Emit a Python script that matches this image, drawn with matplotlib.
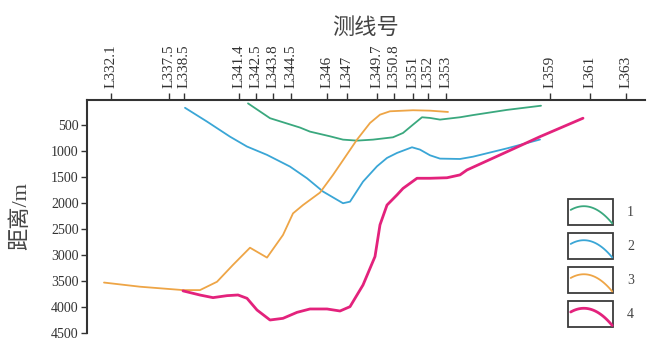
import numpy as np
import matplotlib
matplotlib.use("Agg")
import matplotlib.pyplot as plt
from matplotlib.legend_handler import HandlerBase
from matplotlib.patches import Rectangle
from matplotlib.lines import Line2D

plt.rcParams['font.family'] = ['Liberation Serif', 'Noto Sans CJK SC']
plt.rcParams['axes.unicode_minus'] = False

# Survey lines along the profile (distance along profile, km)
line_names = ["L332.1", "L337.5", "L338.5", "L341.4", "L342.5", "L343.8", "L344.5",
              "L346", "L347", "L349.7", "L350.8", "L351", "L352", "L353",
              "L359", "L361", "L363"]
line_pos = [0.0, 5.8, 7.3, 12.8, 14.5, 16.2, 18.0, 21.6, 23.6, 26.6, 28.3,
            30.2, 31.7, 33.5, 43.9, 47.9, 51.5]

depth_ticks = [500, 1000, 1500, 2000, 2500, 3000, 3500, 4000, 4500]

# Boundary 1
x1 = [13.7, 15.9, 17.4, 18.9, 19.9, 21.9, 23.2, 24.6, 26.2, 28.2, 29.2, 30.2,
      31.1, 31.9, 32.9, 34.9, 36.2, 39.6, 43.0]
d1 = [85, 370, 460, 550, 628, 718, 782, 801, 782, 737, 654, 494,
      352, 365, 397, 352, 310, 210, 130]

# Boundary 2
x2 = [7.4, 9.6, 11.9, 13.6, 15.6, 17.9, 19.6, 21.2, 23.2, 23.9, 25.2, 26.6,
      27.6, 28.6, 30.1, 30.9, 31.9, 32.9, 34.9, 36.2, 39.6, 42.9]
d2 = [170, 435, 725, 915, 1075, 1300, 1525, 1780, 2005, 1975, 1590, 1295,
      1134, 1038, 929, 974, 1083, 1147, 1154, 1110, 950, 780]

# Boundary 3
x3 = [-0.7, 2.9, 7.2, 8.9, 10.6, 12.2, 13.9, 15.6, 17.2, 18.2, 19.2, 20.9,
      22.2, 22.9, 24.6, 25.9, 26.9, 27.9, 30.2, 31.9, 33.7]
d3 = [3530, 3610, 3675, 3675, 3515, 3190, 2860, 3050, 2615, 2200, 2040, 1800,
      1460, 1263, 782, 462, 302, 237, 217, 225, 250]

# Boundary 4
x4 = [7.2, 8.9, 10.2, 11.6, 12.7, 13.6, 14.6, 15.9, 17.2, 18.6, 19.9, 21.6,
      22.9, 23.9, 25.2, 26.4, 26.9, 27.6, 28.6, 29.2, 30.6, 31.9, 33.6, 34.9,
      35.6, 39.6, 42.9, 47.2]
d4 = [3690, 3770, 3820, 3782, 3769, 3833, 4058, 4250, 4218, 4103, 4038, 4038,
      4077, 3994, 3577, 3030, 2420, 2040, 1845, 1720, 1525, 1525, 1515, 1460,
      1365, 1015, 725, 370]

series_labels = ["1", "2", "3", "4"]
series_colors = ["#3aa87e", "#3aa6d6", "#eea546", "#e3227c"]
series_widths = [1.3, 1.3, 1.3, 2.0]


class BoxCurveHandler(HandlerBase):
    """Legend key: a framed box with a small arched curve inside."""
    def create_artists(self, legend, orig_handle, xdescent, ydescent,
                       width, height, fontsize, trans):
        x0, y0 = -xdescent, -ydescent
        rect = Rectangle((x0, y0), width, height, fill=False,
                         edgecolor="#3a3a3a", linewidth=1.3, transform=trans)
        t = np.linspace(0, 1, 40)
        xs = x0 + 0.06 * width + 0.92 * width * t
        ys = y0 + height * (0.58 + 0.9 * t - 1.42 * t ** 2)
        curve = Line2D(xs, ys, color=orig_handle.get_color(),
                       linewidth=orig_handle.get_linewidth(), transform=trans,
                       solid_capstyle="round")
        return [rect, curve]


fig = plt.figure(figsize=(6.52, 3.42), dpi=100)
W, H = 652, 342
ax = fig.add_axes([87 / W, 1 - 333 / H, (645 - 87) / W, (333 - 100) / H])

handles = []
for xs, ds, lab, col, lw in zip([x1, x2, x3, x4], [d1, d2, d3, d4],
                                series_labels, series_colors, series_widths):
    h, = ax.plot(xs, ds, color=col, linewidth=lw, label=lab,
                 solid_joinstyle="round", solid_capstyle="round")
    handles.append(h)

ax.set_xlim(-2.4, 53.4)
ax.set_ylim(4500, 20)

ax.set_xticks(line_pos)
ax.set_xticklabels(line_names)
ax.set_yticks(depth_ticks)
ax.set_yticklabels([str(v) for v in depth_ticks])

ax.xaxis.tick_top()
ax.xaxis.set_label_position("top")
ax.tick_params(axis="x", top=True, bottom=False, labeltop=True,
               labelbottom=False, direction="out", length=5, width=1,
               labelrotation=90, labelsize=11, pad=4, colors="#333333")
ax.tick_params(axis="y", direction="out", length=4, width=1,
               labelsize=10, pad=2, colors="#333333")

for side in ("right", "bottom"):
    ax.spines[side].set_visible(False)
for side in ("top", "left"):
    ax.spines[side].set_linewidth(1.5)
    ax.spines[side].set_color("#333333")

ax.set_xlabel("测线号", fontsize=16, labelpad=7, color="#444444")
ax.set_ylabel("距离/m", fontsize=16, labelpad=14, color="#444444")

fig.legend(handles=handles, labels=series_labels,
           handler_map={Line2D: BoxCurveHandler()},
           loc="upper left", bbox_to_anchor=(568 / W, 1 - 199 / H),
           frameon=False, borderpad=0, borderaxespad=0,
           handlelength=3.25, handleheight=2.5, labelspacing=0.58,
           handletextpad=1.0, fontsize=10, labelcolor="#444444")

fig.savefig("out.png", dpi=100, facecolor="white")
